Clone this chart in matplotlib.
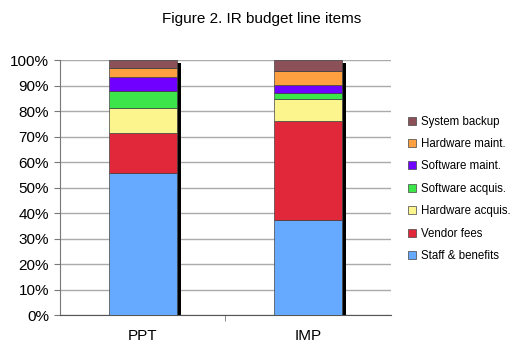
import numpy as np
import matplotlib
matplotlib.use('Agg')
import matplotlib.pyplot as plt

plt.rcParams['font.family'] = ['Liberation Sans', 'DejaVu Sans']

categories = ['PPT', 'IMP']
items = ['Staff & benefits', 'Vendor fees', 'Hardware acquis.', 'Software acquis.',
         'Software maint.', 'Hardware maint.', 'System backup']
ppt_vals = [55.6, 15.9, 9.6, 6.9, 5.2, 3.7, 3.1]
imp_vals = [37.3, 38.9, 8.4, 2.4, 3.2, 5.6, 4.2]
colors = ['#66aaff', '#e0283a', '#fcf48c', '#3ce64a', '#7000ff', '#ffa040', '#8b5058']

fig = plt.figure(figsize=(5.24, 3.53), dpi=100)
ax = fig.add_axes([0.1145, 0.1068, 0.6315, 0.7232])

x = np.arange(len(categories))
w = 0.41
data = np.array([ppt_vals, imp_vals]).T

# drop shadow behind the stacks
ax.bar(x + 0.025, data.sum(axis=0), width=w, bottom=-1.0, color='black', zorder=2)

bottom = np.zeros(len(categories))
for i, (lab, col) in enumerate(zip(items, colors)):
  ax.bar(x, data[i], width=w, bottom=bottom, color=col, edgecolor='#444444',
         linewidth=0.5, label=lab, zorder=3)
  bottom += data[i]
# end for

ax.set_xlim(-0.5, 1.5)
ax.set_ylim(0, 100)
ax.set_yticks(np.arange(0, 101, 10))
ax.set_yticklabels(['%d%%' % v for v in range(0, 101, 10)], fontsize=11)
ax.yaxis.grid(True, color='#aaaaaa', linewidth=1.0, zorder=0)
ax.set_axisbelow(True)
ax.tick_params(axis='y', length=4, color='#777777', pad=4)

ax.set_xticks(x)
ax.set_xticklabels(categories, fontsize=11)
ax.set_xticks([0.5], minor=True)
ax.tick_params(axis='x', which='major', length=0, pad=10)
ax.tick_params(axis='x', which='minor', length=4, color='#777777')

for s in ['top', 'right']:
  ax.spines[s].set_visible(False)
ax.spines['left'].set_color('#777777')
ax.spines['bottom'].set_color('#555555')

h, l = ax.get_legend_handles_labels()
fig.legend(h[::-1], l[::-1], loc='center left', bbox_to_anchor=(0.759, 0.465),
           frameon=False, fontsize=8.3, handlelength=0.7, handleheight=0.7,
           handletextpad=0.4, labelspacing=0.9)

fig.suptitle('Figure 2. IR budget line items', fontsize=11, y=0.965)

fig.savefig('out.png', dpi=100)
